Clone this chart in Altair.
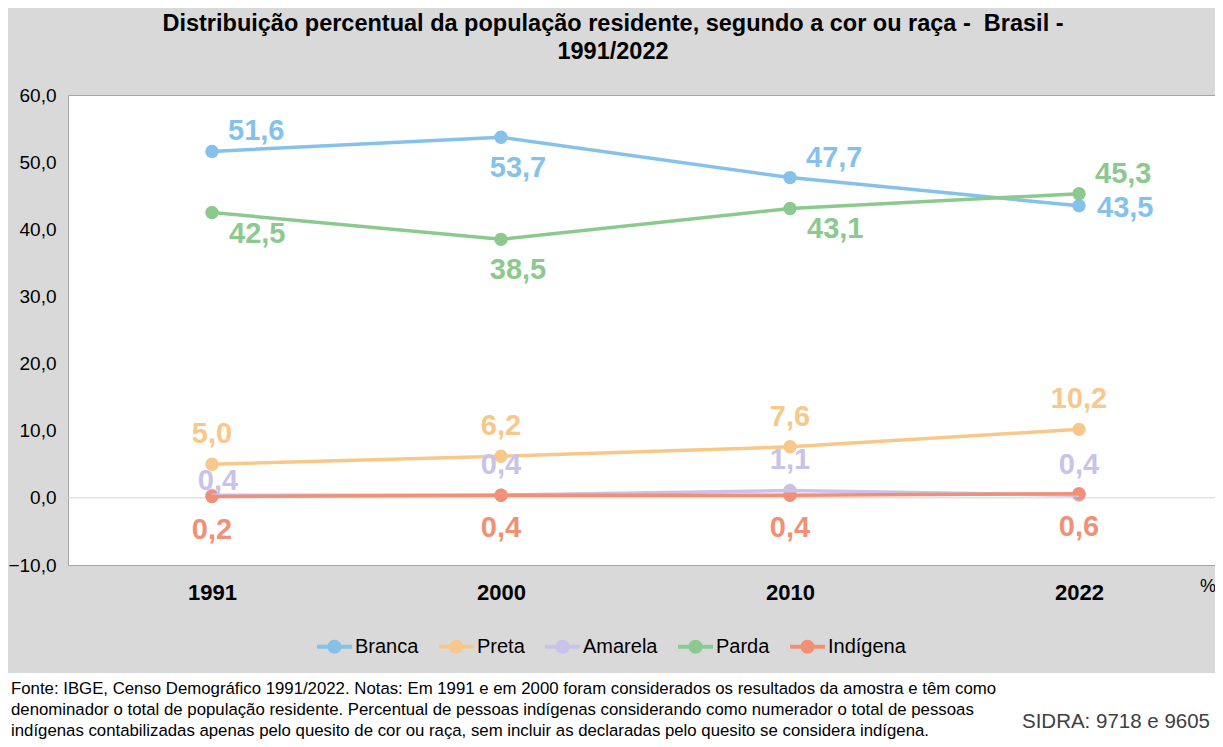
import altair as alt
import pandas as pd

# ---- data ----
anos = ["1991", "2000", "2010", "2022"]
series = ["Branca", "Preta", "Amarela", "Parda", "Indígena"]
branca = [51.6, 53.7, 47.7, 43.5]
preta = [5.0, 6.2, 7.6, 10.2]
amarela = [0.4, 0.4, 1.1, 0.4]
parda = [42.5, 38.5, 43.1, 45.3]
indigena = [0.2, 0.4, 0.4, 0.6]
colors = ["#85c1e9", "#f8c88a", "#c9c3ea", "#8cc98e", "#f09077"]
y_ticks = [-10, 0, 10, 20, 30, 40, 50, 60]

# label placement category for each point (style, not position data)
place_branca = ["upright", "below_shift", "upright", "right"]
place_preta = ["above", "above", "above", "above"]
place_amarela = ["above_near", "above", "above", "above"]
place_parda = ["downright", "below_shift", "downright", "upright"]
place_indigena = ["below", "below", "below", "below"]

title_lines = ["Distribuição percentual da população residente, segundo a cor ou raça -\u00a0 Brasil -", "1991/2022"]
footer_lines = [
    "Fonte: IBGE, Censo Demográfico 1991/2022. Notas: Em 1991 e em 2000 foram considerados os resultados da amostra e têm como",
    "denominador o total de população residente. Percentual de pessoas indígenas considerando como numerador o total de pessoas",
    "indígenas contabilizadas apenas pelo quesito de cor ou raça, sem incluir as declaradas pelo quesito se considera indígena.",
]
sidra_text = "SIDRA: 9718 e 9605"

values = [branca, preta, amarela, parda, indigena]
places = [place_branca, place_preta, place_amarela, place_parda, place_indigena]
rows = []
for s, vals, pl in zip(series, values, places):
    for a, v, p in zip(anos, vals, pl):
        rows.append({"ano": a, "serie": s, "valor": v, "place": p})
df = pd.DataFrame(rows)

FONT = "Liberation Sans, Arial, sans-serif"
W, H = 1147, 470

placements = {
    "above": dict(align="center", dx=0, dy=-30),
    "above_near": dict(align="center", dx=6, dy=-14),
    "below": dict(align="center", dx=0, dy=33),
    "below_shift": dict(align="center", dx=17, dy=31),
    "upright": dict(align="left", dx=16, dy=-20),
    "downright": dict(align="left", dx=17, dy=21),
    "right": dict(align="left", dx=18, dy=2),
}

legend_symbol = (
    "M-1,-0.11L1,-0.11L1,0.11L-1,0.11Z"
    "M-0.4,0A0.4,0.4,0,1,1,0.4,0A0.4,0.4,0,1,1,-0.4,0Z"
)

x_enc = alt.X(
    "ano:N",
    sort=anos,
    scale=alt.Scale(type="point", range=[144, 1011], padding=0),
    axis=alt.Axis(
        title=None, domain=False, ticks=False, labelAngle=0,
        labelFont=FONT, labelFontSize=22, labelFontWeight="bold",
        labelColor="black", labelPadding=17,
    ),
)
y_enc = alt.Y(
    "valor:Q",
    scale=alt.Scale(domain=[-10, 60], nice=False, zero=False),
    axis=alt.Axis(
        title=None, domain=False, ticks=False, grid=False, values=y_ticks,
        labelExpr="replace(format(datum.value, '.1f'), '.', ',')",
        labelFont=FONT, labelFontSize=19, labelColor="black", labelPadding=12,
    ),
)
color_scale = alt.Scale(domain=series, range=colors)
color_legend = alt.Color(
    "serie:N",
    scale=color_scale,
    sort=series,
    legend=alt.Legend(
        title=None, orient="none", direction="horizontal",
        legendX=249, legendY=534,
        symbolType=legend_symbol, symbolSize=1225, symbolStrokeWidth=0,
        symbolOpacity=1, labelFont=FONT, labelFontSize=20, labelColor="black",
        labelOffset=3, columnPadding=20,
    ),
)
color_plain = alt.Color("serie:N", scale=color_scale, sort=series)

base = alt.Chart(df)

one = pd.DataFrame({"k": [0]})
footer_bg = alt.Chart(one).mark_rect(color="white").encode(
    x=alt.value(-60), x2=alt.value(W), y=alt.value(578), y2=alt.value(H + 174)
)
zero_rule = alt.Chart(one).mark_rule(color="#d4d4d4", strokeWidth=1).encode(y=alt.datum(0))

points = base.mark_point(filled=True, size=180, opacity=1, shape="circle").encode(
    x=x_enc, y=y_enc, color=color_legend
)
lines = base.mark_line(strokeWidth=3.5).encode(
    x=x_enc, y=y_enc, color=color_plain, detail="serie:N"
)

label_layers = []
for name, st in placements.items():
    label_layers.append(
        base.transform_filter(alt.datum.place == name)
        .transform_calculate(lab="replace(format(datum.valor, '.1f'), '.', ',')")
        .mark_text(font=FONT, fontSize=29, fontWeight="bold", baseline="middle", **st)
        .encode(x=x_enc, y=y_enc, color=color_plain, text="lab:N")
    )


def text_layer(txt, x, y, **kw):
    return alt.Chart(pd.DataFrame({"t": [txt]})).mark_text(**kw).encode(
        text="t:N", x=alt.value(x), y=alt.value(y)
    )


title_layers = [
    text_layer(title_lines[0], 545, -71, font=FONT, fontSize=23.5, fontWeight="bold",
               color="black", align="center", baseline="middle"),
    text_layer(title_lines[1], 545, -43, font=FONT, fontSize=23.5, fontWeight="bold",
               color="black", align="center", baseline="middle"),
]
pct = text_layer("%", 1140, 492, font=FONT, fontSize=18, color="black",
                 align="center", baseline="middle")
footer_layers = [
    text_layer(t, -57, yy, font=FONT, fontSize=16.8, color="black",
               align="left", baseline="middle")
    for t, yy in zip(footer_lines, [594, 615, 636])
]
sidra = text_layer(sidra_text, 1142, 627, font=FONT, fontSize=20.5, color="#404040",
                   align="right", baseline="middle")

chart = alt.layer(
    footer_bg, zero_rule, points, lines, *label_layers, *title_layers, pct, *footer_layers, sidra
).properties(
    width=W, height=H,
    autosize=alt.AutoSizeParams(type="none"),
    padding={"left": 60, "top": 87, "right": 0, "bottom": 174},
    background="#d9d9d9",
).configure_view(
    fill="white", stroke="#a6a6a6", strokeWidth=1
)

chart.save("out.html", embed_options={"renderer": "svg", "actions": False})
